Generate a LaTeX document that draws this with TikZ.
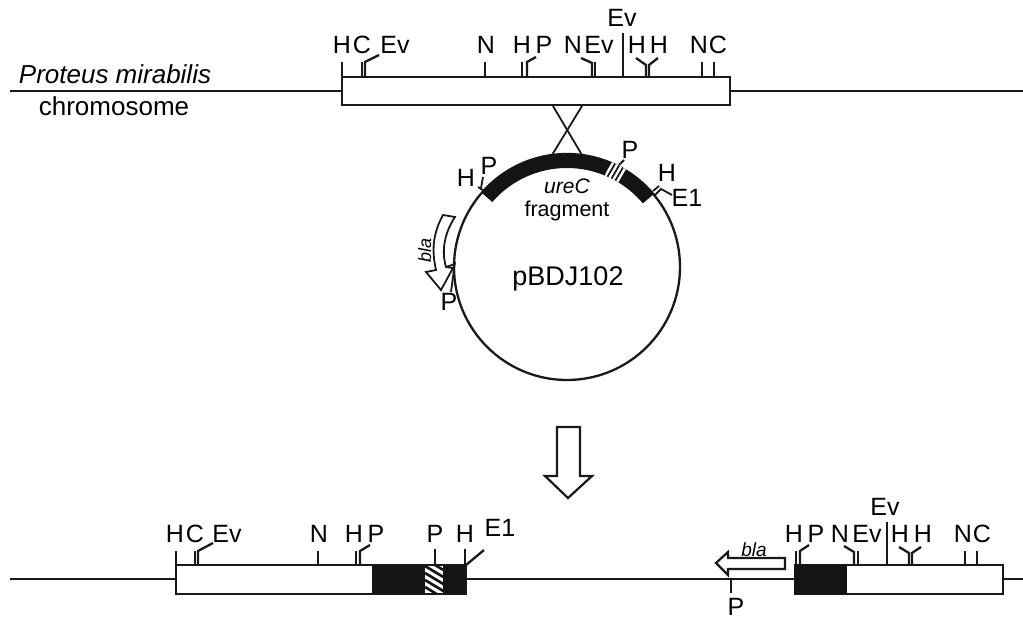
\documentclass[tikz,border=0pt]{standalone}
\usepackage{fontspec}
\setmainfont{Liberation Sans}
\newcommand{\lab}[4]{\node[lbl] (#1) at (#2,#3) {#4};}
\begin{document}
\begin{tikzpicture}[x=1pt,y=-1pt,
  lbl/.style={inner sep=0pt,outer sep=0pt,anchor=base,font=\fontsize{25}{27}\selectfont},
  ln/.style={line width=2.3pt,draw=black!90},
  thin ln/.style={line width=1.8pt,draw=black!90},
  box/.style={line width=2.5pt,draw=black!90,fill=white},
  arr/.style={line width=2.2pt,draw=black!90,fill=white,line join=miter}]
\useasboundingbox (0,0) rectangle (1023,618);
% top chromosome
\draw[ln] (10,91) -- (342,91);
\draw[ln] (730,91) -- (1023,91);
\draw[box] (342,77) rectangle (730,105);
\draw[ln] (342,62) -- (342,77);
\draw[ln] (362,62) -- (362,77);
\draw[ln] (365,77) -- (365,62) -- (379,55);
\draw[ln] (485,62) -- (485,77);
\draw[ln] (522,62) -- (522,77);
\draw[ln] (527,77) -- (527,62) -- (536,57);
\draw[ln] (592,77) -- (592,63) -- (581,58);
\draw[ln] (595,62) -- (595,77);
\draw[ln] (623,33) -- (623,77);
\draw[ln] (646,77) -- (646,65) -- (636,58);
\draw[ln] (649,77) -- (649,65) -- (658,58);
\draw[ln] (702,62) -- (702,77);
\draw[ln] (714,62) -- (714,77);
\lab{th}{342}{54}{H}\lab{tc}{362}{54}{C}\lab{tev}{395}{54}{Ev}\lab{tn}{486}{54}{N}
\lab{th2}{522}{54}{H}\lab{tp}{544}{54}{P}\lab{tn2}{573}{54}{N}\lab{tev2}{599}{54}{Ev}
\lab{tev3}{622}{27}{Ev}\lab{th3}{637}{54}{H}\lab{th4}{659}{54}{H}\lab{tn3}{699}{54}{N}\lab{tc2}{718}{54}{C}
\node[lbl,font=\fontsize{26}{28}\selectfont\itshape] (prot) at (115,84) {Proteus mirabilis};
\node[lbl,font=\fontsize{26}{28}\selectfont] (chrom) at (114,115) {chromosome};
% crossover
\draw[thin ln] (553,106) -- (582,155);
\draw[thin ln] (582,106) -- (552,155);
% plasmid
\begin{scope}[shift={(567,267)},x=1pt,y=1pt]
  \draw[ln] (0,0) circle[radius=113pt];
  \fill[black!92] (40:113.5pt) arc[start angle=40,end angle=139,radius=113.5pt] -- (139:99pt) arc[start angle=139,end angle=40,radius=99pt] -- cycle;
  \begin{scope}
    \clip (58.5:114pt) arc[start angle=58.5,end angle=67.5,radius=114pt] -- (67.5:99pt) arc[start angle=67.5,end angle=58.5,radius=99pt] -- cycle;
    \foreach \t in {-6.6,-2.2,2.2,6.6} {
      \draw[white,line width=2.4pt] ({48+\t*0.89-12*0.5},{94.5-\t*0.454-12*0.866}) -- ++(60:24pt);
    }
  \end{scope}
\end{scope}
\draw[thin ln] (619,165) -- (624,160);
\draw[thin ln] (653,191) -- (659,186);
\draw[thin ln] (655,195) -- (661,189) -- (672,195);
\draw[thin ln] (478,187) -- (484,191);
\draw[thin ln] (481,188) -- (483,177);
\lab{cp}{630}{158}{P}\lab{ch}{667}{181}{H}\lab{ce}{687}{206}{E1}
\lab{ch2}{466}{186}{H}\lab{cp2}{489}{174}{P}
\node[lbl,font=\fontsize{21}{23}\selectfont\itshape] (ure) at (567,193) {ureC};
\node[lbl,font=\fontsize{21.5}{23}\selectfont] (frag) at (567,216) {fragment};
\node[lbl,font=\fontsize{27}{29}\selectfont] (pb) at (568,285) {pBDJ102};
% bla on plasmid
\draw[arr,line width=1.8pt] (443,215) .. controls (432,235) and (432,252) .. (436,270) -- (426,272) -- (441,290) -- (453,268) -- (446,267)
  .. controls (441,250) and (445,232) .. (455,217) -- cycle;
\draw[thin ln] (446,267) -- (455,264);
\draw[thin ln] (455,262) -- (451,292);
\node[lbl,font=\fontsize{18}{20}\selectfont\itshape,rotate=90,anchor=base] (bla1) at (431,250) {bla};
\lab{cp3}{449}{310}{P}
% middle arrow
\draw[arr] (557,427) -- (580,427) -- (580,476) -- (592,476) -- (568,498) -- (545,476) -- (557,476) -- cycle;
% bottom
\draw[ln] (10,579) -- (176,579);
\draw[ln] (466,579) -- (795,579);
\draw[ln] (1003,579) -- (1023,579);
\draw[box] (176,565) rectangle (466,594);
\fill[black!92] (372,565) rectangle (466,594);
\fill[white] (425,566) rectangle (443,593);
\begin{scope}
  \clip (425,566) rectangle (443,593);
  \foreach \d in {-8,-1,...,34} \draw[black!92,line width=2.6pt] (425,560+\d) -- (445,572+\d);
\end{scope}
\draw[box,fill=none] (176,565) rectangle (466,594);
\draw[ln] (176,551) -- (176,565);
\draw[ln] (195,551) -- (195,565);
\draw[ln] (198,565) -- (198,551) -- (213,543);
\draw[ln] (318,551) -- (318,565);
\draw[ln] (356,551) -- (356,565);
\draw[ln] (360,565) -- (360,551) -- (370,545);
\draw[ln] (435,549) -- (435,565);
\draw[ln] (465,549) -- (465,565);
\draw[ln] (466,565) -- (484,550);
\lab{bh}{175}{542}{H}\lab{bc}{195}{542}{C}\lab{bev}{227}{542}{Ev}\lab{bn}{319}{542}{N}
\lab{bh2}{354}{542}{H}\lab{bp}{376}{542}{P}\lab{bp2}{435}{542}{P}\lab{bh3}{465}{542}{H}
\lab{be}{500}{536}{E1}
\draw[box] (795,565) rectangle (1003,594);
\fill[black!92] (795,565) rectangle (847,594);
\draw[ln] (796,551) -- (796,565);
\draw[ln] (800,565) -- (800,551) -- (809,545);
\draw[ln] (854,565) -- (854,552) -- (844,546);
\draw[ln] (858,551) -- (858,565);
\draw[ln] (887,522) -- (887,565);
\draw[ln] (909,565) -- (909,553) -- (899,547);
\draw[ln] (912,565) -- (912,553) -- (921,547);
\draw[ln] (965,551) -- (965,565);
\draw[ln] (977,551) -- (977,565);
\lab{rh}{794}{542}{H}\lab{rp}{816}{542}{P}\lab{rn}{840}{542}{N}\lab{rev}{867}{542}{Ev}
\lab{rev2}{885}{515}{Ev}\lab{rh2}{900}{542}{H}\lab{rh3}{923}{542}{H}\lab{rn2}{963}{542}{N}\lab{rc}{982}{542}{C}
\draw[arr] (785,558) -- (728,558) -- (728,552) -- (716,563) -- (728,575) -- (728,569) -- (785,569) -- cycle;
\node[lbl,font=\fontsize{19}{21}\selectfont\itshape] (bla2) at (754,556) {bla};
\draw[ln] (731,579) -- (731,593);
\lab{rp2}{736}{615}{P}
\end{tikzpicture}
\end{document}
